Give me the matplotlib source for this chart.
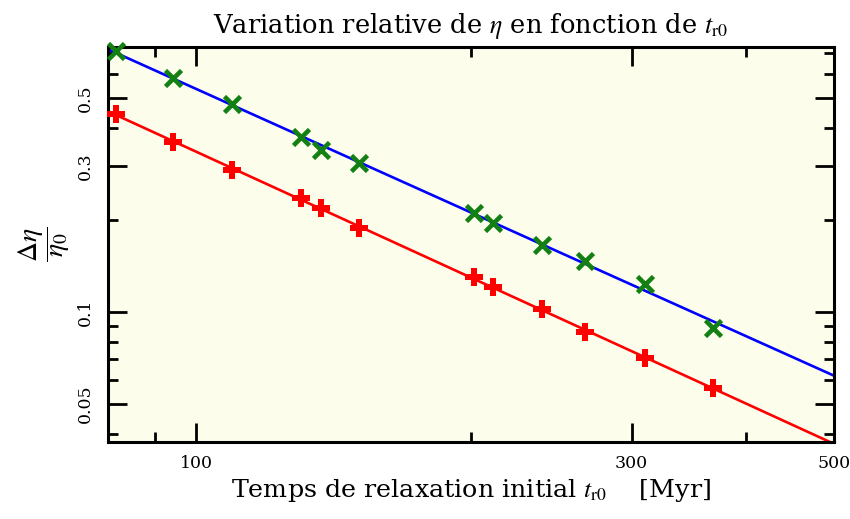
import numpy as np
import matplotlib
matplotlib.use("Agg")
import matplotlib.pyplot as plt
from matplotlib.ticker import FixedLocator, NullFormatter, FixedFormatter

# ---- data ----
t_r0 = [81.7, 94.2, 109.5, 130.2, 137.0, 150.6, 201.4, 211.3, 239.5, 267.0, 310.4, 368.1]
deta_red = [0.445, 0.359, 0.291, 0.236, 0.218, 0.188, 0.130, 0.121, 0.102, 0.086, 0.071, 0.0564]
deta_green = [0.712, 0.580, 0.480, 0.373, 0.338, 0.308, 0.210, 0.196, 0.166, 0.147, 0.1235, 0.089]

x_major = [100, 300, 500]
x_minor = [90, 200, 400]
y_major = [0.05, 0.1, 0.3, 0.5]
y_major_labels = ["0.05", "0.1", "0.3", "0.5"]
y_minor = [0.04, 0.06, 0.07, 0.08, 0.09, 0.2, 0.4, 0.6, 0.7]

plt.rcParams['font.family'] = ['DejaVu Serif']
plt.rcParams['mathtext.fontset'] = 'stix'

fig = plt.figure(figsize=(8.5, 5.19), dpi=100)
ax = fig.add_axes([108/850, 1-442/519, (834-108)/850, (442-47)/519])
ax.set_facecolor('#FDFDEC')

ax.set_xscale('log')
ax.set_yscale('log')

# power-law fits
lx = np.log10(t_r0)
xfit = np.array([80, 500])
for ys, col in [(deta_green, '#0000FF'), (deta_red, '#FF0000')]:
    p = np.polyfit(lx, np.log10(ys), 1)
    ax.plot(xfit, 10**np.polyval(p, np.log10(xfit)), color=col, lw=1.9, zorder=2)

ax.plot(t_r0, deta_green, linestyle='none', marker='x', color='#128012',
        markersize=12, mew=3.3, zorder=3, clip_on=False)
ax.plot(t_r0, deta_red, linestyle='none', marker='P', color='#FF0000',
        markersize=13, mew=0, zorder=3, clip_on=False)

ax.set_xlim(80, 500)
ax.set_ylim(0.0376, 0.735)

ax.xaxis.set_major_locator(FixedLocator(x_major))
ax.xaxis.set_major_formatter(FixedFormatter([str(v) for v in x_major]))
ax.xaxis.set_minor_locator(FixedLocator(x_minor))
ax.xaxis.set_minor_formatter(NullFormatter())
ax.yaxis.set_major_locator(FixedLocator(y_major))
ax.yaxis.set_major_formatter(FixedFormatter(y_major_labels))
ax.yaxis.set_minor_locator(FixedLocator(y_minor))
ax.yaxis.set_minor_formatter(NullFormatter())

ax.tick_params(which='both', direction='in', top=True, right=True, width=2.0)
ax.tick_params(which='major', length=14, labelsize=12.5)
ax.tick_params(axis='x', which='major', pad=9)
ax.tick_params(axis='y', which='major', pad=10)
ax.tick_params(which='minor', length=7.5)
for lab in ax.get_yticklabels():
    lab.set_rotation(90)
    lab.set_va('center')
for s in ax.spines.values():
    s.set_linewidth(2.2)

ax.set_title(r"Variation relative de $\eta$ en fonction de $t_{\mathrm{r0}}$", fontsize=18.5, pad=10)
ax.set_xlabel(r"Temps de relaxation initial $t_{\mathrm{r0}}$    [Myr]", fontsize=18.3, labelpad=4)
ax.set_ylabel(r"$\dfrac{\Delta\eta}{\eta_0}$", fontsize=20, labelpad=4)

fig.savefig("out.png", dpi=100)
